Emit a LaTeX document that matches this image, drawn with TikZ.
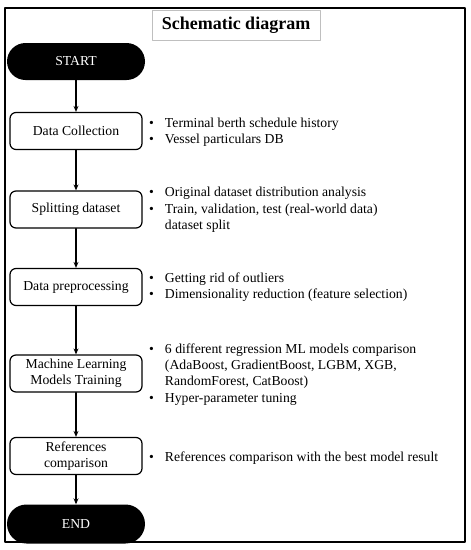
\documentclass[tikz,border=0pt]{standalone}
\usepackage{fontspec}
\setmainfont{Liberation Serif}
\usetikzlibrary{arrows.meta}
\begin{document}
\begin{tikzpicture}[x=1pt,y=-1pt,line cap=round,line join=round,
  font=\fontsize{13.7}{16.3}\selectfont,
  stepbox/.style={draw,line width=1.2pt,rounded corners=6pt,minimum width=132pt,minimum height=37pt,align=center,inner sep=2pt},
  endbox/.style={fill=black,text=white,rounded corners=18.5pt,minimum width=138pt,minimum height=37pt,inner sep=0pt},
  notes/.style={anchor=west,inner sep=0pt,align=left},
  flow/.style={line width=1.2pt,-{Stealth[length=6pt,width=5pt]}}]
  \useasboundingbox (0,0) rectangle (471,550);
  \draw[line width=1.5pt] (5,8) rectangle (465,542);
  \node[draw=gray!50,line width=0.8pt,minimum width=168pt,minimum height=30pt,font=\fontsize{18}{20}\selectfont\bfseries] (title) at (236,25) {Schematic diagram};
  \node[endbox] (start) at (76,61.5) {START};
  \node[stepbox] (collect) at (76,131) {Data Collection};
  \node[stepbox] (split) at (76,209.5) {Splitting dataset};
  \node[stepbox] (prep) at (76,287) {Data preprocessing};
  \node[stepbox] (train) at (76,373.5) {Machine Learning\\Models Training};
  \node[stepbox] (refs) at (76,456) {References\\comparison};
  \node[endbox,minimum height=39pt,rounded corners=19.5pt] (end) at (76,524) {END};
  \draw[flow] (start) -- (collect);
  \draw[flow] (collect) -- (split);
  \draw[flow] (split) -- (prep);
  \draw[flow] (prep) -- (train);
  \draw[flow] (train) -- (refs);
  \draw[flow] (refs) -- (end);
  % notes beside each step
  \node[notes] (collectnotes) at (149,132.5) {\begin{tabular}{@{}l@{\hspace{11pt}}l@{}}
    \textbullet & Terminal berth schedule history\\
    \textbullet & Vessel particulars DB
  \end{tabular}};
  \node[notes] (splitnotes) at (149,210) {\begin{tabular}{@{}l@{\hspace{11pt}}l@{}}
    \textbullet & Original dataset distribution analysis\\
    \textbullet & Train, validation, test (real-world data)\\
    & dataset split
  \end{tabular}};
  \node[notes] (prepnotes) at (149,287) {\begin{tabular}{@{}l@{\hspace{11pt}}l@{}}
    \textbullet & Getting rid of outliers\\
    \textbullet & Dimensionality reduction (feature selection)
  \end{tabular}};
  \node[notes] (trainnotes) at (149,374.5) {\begin{tabular}{@{}l@{\hspace{11pt}}l@{}}
    \textbullet & 6 different regression ML models comparison\\
    & (AdaBoost, GradientBoost, LGBM, XGB,\\
    & RandomForest, CatBoost)\\
    \textbullet & Hyper-parameter tuning
  \end{tabular}};
  \node[notes] (refsnotes) at (149,458) {\begin{tabular}{@{}l@{\hspace{11pt}}l@{}}
    \textbullet & References comparison with the best model result
  \end{tabular}};
\end{tikzpicture}
\end{document}
